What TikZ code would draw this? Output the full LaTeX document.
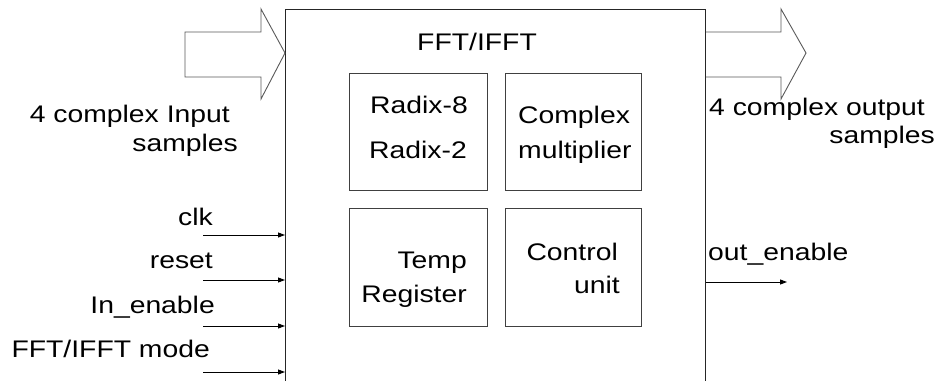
\documentclass[tikz,border=0pt]{standalone}
\usepackage{fontspec}
\setmainfont{Liberation Sans}[FakeStretch=1.18]
\usetikzlibrary{arrows.meta}
\begin{document}
\begin{tikzpicture}[x=1pt,y=-1pt,
  lbl/.style={inner sep=0pt,font=\fontsize{24}{28}\selectfont},
  unitbox/.style={draw=black!75,line width=0.9pt,inner sep=0pt},
  blockarrow/.style={draw=black!65,line width=0.9pt},
  sig/.style={line width=0.9pt,-{Triangle[length=7pt,width=5pt]}}]
\useasboundingbox (0,0) rectangle (939,380);
\clip (0,0) rectangle (939,380);

% main FFT/IFFT block (runs past the lower edge)
\node[unitbox,draw=black!85,anchor=north west,minimum width=420pt,minimum height=400pt] (core) at (285,9) {};
\node[lbl,anchor=base] (title) at (477,50.5) {FFT/IFFT};

% four sub-units
\node[unitbox,anchor=north west,minimum width=138pt,minimum height=117pt] (radix) at (349,73) {};
\node[unitbox,anchor=north west,minimum width=136pt,minimum height=117pt] (cmul) at (505,73) {};
\node[unitbox,anchor=north west,minimum width=138pt,minimum height=118pt] (temp) at (349,208) {};
\node[unitbox,anchor=north west,minimum width=136pt,minimum height=118pt] (ctrl) at (505,208) {};

\node[lbl,anchor=base east] (r8) at (468,113) {Radix-8};
\node[lbl,anchor=base east] (r2) at (467,158) {Radix-2};
\node[lbl,anchor=base west] (cm1) at (518,123) {Complex};
\node[lbl,anchor=base west] (cm2) at (518,158) {multiplier};
\node[lbl,anchor=base east] (tr1) at (467,268) {Temp};
\node[lbl,anchor=base east] (tr2) at (467,302) {Register};
\node[lbl,anchor=base east] (cu1) at (618,260) {Control};
\node[lbl,anchor=base east] (cu2) at (620,293) {unit};

% wide data arrows
\draw[blockarrow] (185,32) -- (261,32) -- (261,9) -- (core.west |- 0,53) -- (261,99) -- (261,77) -- (185,77) -- cycle;
\draw[blockarrow] (core.east |- 0,32) -- (781,32) -- (781,9) -- (806,53) -- (781,99) -- (781,77) -- (core.east |- 0,77);

\node[lbl,anchor=base east] (in1) at (230,122.5) {4 complex Input};
\node[lbl,anchor=base east] (in2) at (238,151) {samples};
\node[lbl,anchor=base west] (out1) at (709,115.5) {4 complex output};
\node[lbl,anchor=base east] (out2) at (935,143.5) {samples};

% control inputs
\node[lbl,anchor=base east] (clk) at (213,225) {clk};
\node[lbl,anchor=base east] (rst) at (213,268) {reset};
\node[lbl,anchor=base east] (ien) at (215,313) {In\_enable};
\node[lbl,anchor=base east] (mode) at (210,357) {FFT/IFFT mode};

\coordinate (clkS) at (203,235);
\coordinate (rstS) at (203,280);
\coordinate (ienS) at (203,326);
\coordinate (modeS) at (203,372);
\draw[sig] (clkS) -- (clkS -| core.west);
\draw[sig] (rstS) -- (rstS -| core.west);
\draw[sig] (ienS) -- (ienS -| core.west);
\draw[sig] (modeS) -- (modeS -| core.west);

% output strobe
\node[lbl,anchor=base west] (oen) at (708,260) {out\_enable};
\coordinate (oenE) at (787,282);
\draw[sig] (core.east |- oenE) -- (oenE);
\end{tikzpicture}
\end{document}
